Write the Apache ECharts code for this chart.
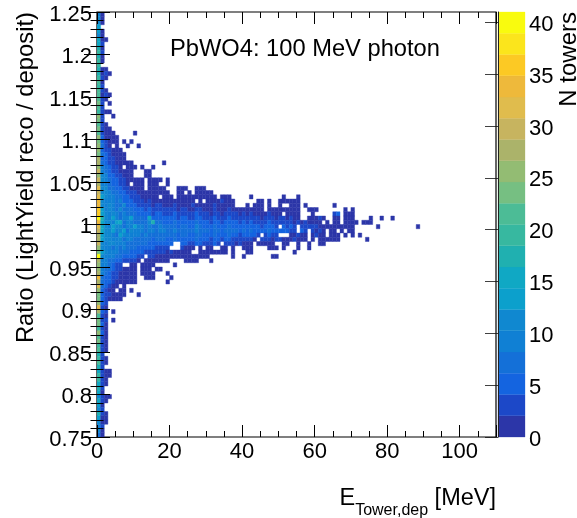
<!DOCTYPE html>
<html><head><meta charset="utf-8">
<script src="https://cdn.jsdelivr.net/npm/echarts@6/dist/echarts.min.js"></script>
<style>html,body{margin:0;padding:0;background:#fff}#c{width:577px;height:518px}</style>
</head><body><div id="c"></div>
<script>
// Counts per (energy bin, ratio bin). One string per ratio row, top row first; '.' = empty,
// symbols follow countSymbols. Spaces only group ten bins for readability.
const countSymbols = ".123456789abcdefghijklmnopqrstuvwxyzABCDEF";
const countRows = [
"a2","c1","b2","d","e1","c2","f21","g3","i2","k3",            // 99-90
"i1","j2","k","h21","i231","k32","m2","j3","l41","l231",       // 89-80
"m32","n3.1","l4","k421","p3..1","n4","m31","o322","l4211 .....1","q52121", // 79-70
"n63221.1.1","p742.2..1. .1","q643211","o7532211","r6533211",  // 69-65
"s864322121 ........1","q975432.11 1.1..1","ta85432211 ...11","pb96543221 ...21","uc97654321 211.1211.1", // 64-60
"ra9765432. 121.211..1","vcb8765432 121.12211. ..121..112","ucb9876543 3222112211 ..12.1.121 11",
"wdc9987654 3322212.11 1.12121112 121.111... ..1....... .1...1",
"xb9a97a655 4332322211 2121122.1. 12213221.. ....11.1.. 111111",
"yc9ba87c66 5443423322 2312213221 12321211.. .1.112.1.. 1..212.1.. .....1",
"zdaba8c877 6554534433 3423322432 2132123221 212121.121 211221..11 1.......1. 1",
"Aeb9ca7988 7665645544 4534433543 3243234332 3232212321 2.1212...1 .....45.12 1",
"Fhb9ea79ad 8776f56655 5645544654 4354345443 4343323432 332312..21 132..12.21 2....1..1. .1",
"yfbcadf799 8887ch7766 6756655765 5465456554 5454434543 4434232321 21.1.22.12 21.121",
"wgcaecb8aa e998978a77 7867766a76 6576567665 6565545654 .5453.4343 3221112121 1......1.. ........1",
"ufcbdabe8b aa98a98998 8978877987 7687678776 7676656765 56543.54.3 232.21.1.2 1",
"sebca8dbaa 9989878887 7867766876 6576567654 56554.4543 ...22321.2 321.121.1. 1.1",
"rdbca9b7a9 8878767776 6756655765 5465456443 3432.34323 32123221.2 .122121... ....1",
"tcabc99a78 8787665665 5..5544654 4354.34323 212.21211. .12..1..1. .21",
"pbaa898a87 7665554434 ...3222.2. 11..21.1.. 121....121 .1...1..1.",
"ndbaa98776 6554443332 322121..21 121121.1.. .21....... ....1",
"Fcaa987665 544.332221 2221211211 1......1.. 1.......11",
"raa8765443 32.2112211 ....2111.. .1",
"qa98643..2 1.1221.... .1",
"pa87643211 2.121.11..",
"s976432212 1.2122...1",
"x865432111 1..211.... 1",
"r865321121 1........1",
"w75321.1","q6421.11.1","o643212 1.. .1","n642112",              // 35-32
"p53","v42","r53.1","m42","o43.1","n52","k41","p52","l42","n31", // 31-22
"j42","m31","h3","k41","l32","h3","g311","j421","k31","f42",     // 21-12
"i3","g1","c411","f31","e2","b3","h31","e21","c22","93","b2","81" // 11-0
];
const energyMin = 0, energyMax = 110, energyStep = 20;
const ratioMin = 0.75, ratioMax = 1.25, ratioStep = 0.05, ratioBin = 0.005;
const countMax = 41, countStep = 5;
// Palette levels, lowest first
const palette = ["#2c36a8","#1c48c8","#1464e0","#1470d8","#1080d4","#1088d0","#0ca0cc","#10a8c4","#20b0b0","#37b8a0",
                 "#4cbc96","#76bf82","#93bc73","#abb36a","#c7b45f","#e0bc4d","#eeb93b","#fcc924","#fbe51c","#f9fb0e"];
const chartTitle = "PbWO4: 100 MeV photon";
const yTitle = "Ratio (LightYield reco / deposit)";
const zTitle = "N towers";

const FONT = '"Liberation Sans", Arial, sans-serif';
const levelOf = c => Math.min(palette.length - 1, Math.floor(c / countMax * palette.length));
const cells = [];
countRows.forEach((row, r) => {
  const j = countRows.length - 1 - r;
  row.replace(/ /g, "").split("").forEach((ch, i) => {
    const c = countSymbols.indexOf(ch);
    if (c > 0) cells.push([i, ratioMin + j * ratioBin, c]);
  });
});
const levelData = palette.map((_, k) => [k * countMax / palette.length, (k + 1) * countMax / palette.length, k]);

const chart = echarts.init(document.getElementById("c"), null, {renderer: "canvas"});
const tickLine = {color: "#000", width: 1};
const nudged = {a: {fontSize: 22, fontFamily: FONT, color: "#000", padding: [5, 0, 0, 0]}};
const baseX = {
  type: "value", min: energyMin, max: energyMax, interval: energyStep, gridIndex: 0, z: 10,
  splitLine: {show: false}, axisLine: {show: false},
  axisTick: {show: true, inside: true, length: 12, lineStyle: tickLine},
  minorTick: {show: true, splitNumber: 4, length: 6, lineStyle: {color: "#000", width: 1}}
};
const baseY = {
  type: "value", min: ratioMin, max: ratioMax, interval: ratioStep, gridIndex: 0, z: 10,
  splitLine: {show: false}, axisLine: {show: false},
  axisTick: {show: true, inside: true, length: 13, lineStyle: tickLine},
  minorTick: {show: true, splitNumber: 5, length: 6.5, lineStyle: {color: "#000", width: 1}}
};
chart.setOption({
  animation: false,
  backgroundColor: "#fff",
  textStyle: {fontFamily: FONT},
  grid: [
    {left: 97, top: 12, width: 399, height: 425, show: true, borderColor: "#000", borderWidth: 1.2, backgroundColor: "transparent", containLabel: false},
    {left: 498, top: 12, width: 27, height: 425, show: false}
  ],
  xAxis: [
    Object.assign({}, baseX, {position: "bottom",
      axisLabel: {show: true, color: "#000", fontSize: 22, fontFamily: FONT, margin: 4, showMaxLabel: false}}),
    Object.assign({}, baseX, {position: "top", axisLabel: {show: false}}),
    {type: "value", gridIndex: 1, min: 0, max: 1, show: false}
  ],
  yAxis: [
    Object.assign({}, baseY, {position: "left",
      axisLabel: {show: true, color: "#000", fontSize: 22, fontFamily: FONT, margin: 5, rich: nudged,
        formatter: v => "{a|" + String(+(+v).toFixed(2)) + "}"}}),
    Object.assign({}, baseY, {position: "right", axisLabel: {show: false}}),
    {type: "value", gridIndex: 1, position: "right", min: 0, max: countMax, interval: countStep, z: 10,
      splitLine: {show: false},
      axisLine: {show: true, lineStyle: {color: "#222", width: 1}},
      axisTick: {show: true, inside: true, length: 13, lineStyle: {color: "#111", width: 1, opacity: .8}},
      axisLabel: {show: true, color: "#000", fontSize: 22, fontFamily: FONT, margin: 4, rich: nudged, showMaxLabel: false,
        formatter: v => "{a|" + v + "}"}}
  ],
  series: [
    {type: "custom", coordinateSystem: "cartesian2d", xAxisIndex: 0, yAxisIndex: 0, z: 3, clip: true,
      data: cells, encode: {x: 0, y: 1},
      renderItem: (params, api) => {
        const a = api.coord([api.value(0), api.value(1)]);
        const b = api.coord([api.value(0) + 1, api.value(1) + ratioBin]);
        const col = palette[levelOf(api.value(2))];
        return {type: "rect", shape: {x: a[0], y: b[1], width: b[0] - a[0], height: a[1] - b[1]},
          style: {fill: col, stroke: col, lineWidth: 0.4}};
      }},
    {type: "custom", coordinateSystem: "cartesian2d", xAxisIndex: 2, yAxisIndex: 2, z: 3,
      data: levelData, encode: {y: [0, 1]},
      renderItem: (params, api) => {
        const a = api.coord([0, api.value(0)]);
        const b = api.coord([1, api.value(1)]);
        const col = palette[api.value(2)];
        return {type: "rect", shape: {x: a[0], y: b[1], width: b[0] - a[0], height: a[1] - b[1]},
          style: {fill: col, stroke: col, lineWidth: 0.3}};
      }}
  ],
  graphic: [
    {type: "text", z: 20, x: 170, y: 49, style: {text: chartTitle, fill: "#000", font: "23.7px " + FONT, textVerticalAlign: "middle"}},
    {type: "text", z: 20, x: 26, y: 12, rotation: Math.PI / 2,
      style: {text: yTitle, fill: "#000", font: "23.8px " + FONT, textAlign: "right", textVerticalAlign: "middle"}},
    {type: "text", z: 20, x: 569, y: 12, rotation: Math.PI / 2,
      style: {text: zTitle, fill: "#000", font: "24px " + FONT, textAlign: "right", textVerticalAlign: "middle"}},
    {type: "text", z: 20, x: 496, y: 500,
      style: {text: "{e|E}{s|Tower,dep}{e| [MeV]}", textAlign: "right", textVerticalAlign: "middle", fill: "#000",
        rich: {e: {fontSize: 23.5, fontFamily: FONT, fill: "#000", verticalAlign: "top", lineHeight: 26},
               s: {fontSize: 16, fontFamily: FONT, fill: "#000", verticalAlign: "top", lineHeight: 26, padding: [16, 0, 0, 0]}}}}
  ]
});
</script></body></html>
